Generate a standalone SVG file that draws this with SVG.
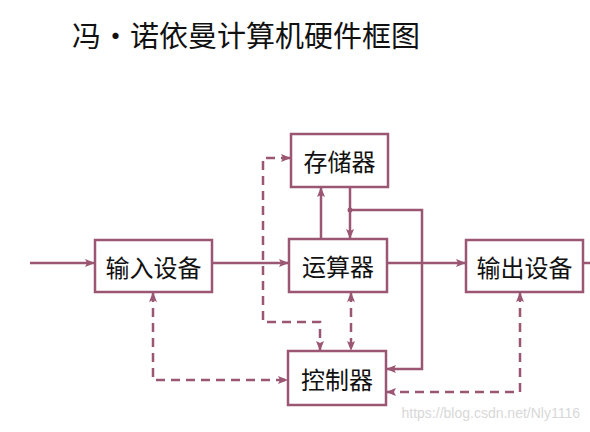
<svg xmlns="http://www.w3.org/2000/svg" width="590" height="432" viewBox="0 0 590 432">
<style>
.box{fill:#fff;stroke:#9a5672;stroke-width:2.5}
.lbl{font-family:"Noto Sans CJK SC",sans-serif;font-size:24px;fill:#111;text-anchor:middle;dominant-baseline:central}
.ln{fill:none;stroke:#9a5672;stroke-width:2.5}
.ds{fill:none;stroke:#9a5672;stroke-width:2.5;stroke-dasharray:9 6}
</style>
<defs>
<marker id="ah" viewBox="0 0 10 10" refX="9" refY="5" markerWidth="4" markerHeight="4" orient="auto-start-reverse" markerUnits="strokeWidth">
<path d="M0,1 L10,5 L0,9 L2,5 Z" fill="#9a5672"/>
</marker>
</defs>
<rect width="590" height="432" fill="#fff"/>
<text x="72" y="34" font-family="Noto Sans CJK SC,sans-serif" font-size="29" fill="#111" dominant-baseline="central">冯·诺依曼计算机硬件框图</text>
<g id="connectors">
<path class="ln" d="M30,263 H94" marker-end="url(#ah)"/>
<path class="ln" d="M212,263 H288" marker-end="url(#ah)"/>
<path class="ln" d="M387,263 H465" marker-end="url(#ah)"/>
<path class="ln" d="M583,263 H590"/>
<path class="ln" d="M321,239 V188" marker-end="url(#ah)"/>
<path class="ln" d="M350,187 V238" marker-end="url(#ah)"/>
<path class="ln" d="M350,210 H422 V369 H387" marker-end="url(#ah)"/>
<circle cx="350" cy="210" r="2.5" fill="#9a5672"/>
<path class="ds" d="M153,293 V380 H287" marker-start="url(#ah)" marker-end="url(#ah)"/>
<path class="ds" d="M520,293 V392 H387" marker-start="url(#ah)" marker-end="url(#ah)"/>
<path class="ds" d="M290,158 H263 V322 H320 V350" marker-start="url(#ah)" marker-end="url(#ah)"/>
<path class="ds" d="M351,293 V350" marker-start="url(#ah)" marker-end="url(#ah)"/>
</g>
<g id="storage"><rect class="box" x="291" y="134" width="97" height="53"/><text class="lbl" x="339.5" y="160.5">存储器</text></g>
<g id="alu"><rect class="box" x="289" y="239" width="98" height="53"/><text class="lbl" x="338" y="265.5">运算器</text></g>
<g id="input"><rect class="box" x="95" y="240" width="117" height="52"/><text class="lbl" x="153.5" y="266">输入设备</text></g>
<g id="output"><rect class="box" x="466" y="240" width="117" height="52"/><text class="lbl" x="524.5" y="266">输出设备</text></g>
<g id="control"><rect class="box" x="288" y="351" width="98" height="54"/><text class="lbl" x="337" y="378">控制器</text></g>
<text x="580" y="413" font-family="Liberation Sans,sans-serif" font-size="14" fill="#d8d8d8" text-anchor="end" dominant-baseline="central">https://blog.csdn.net/Nly1116</text>
</svg>
